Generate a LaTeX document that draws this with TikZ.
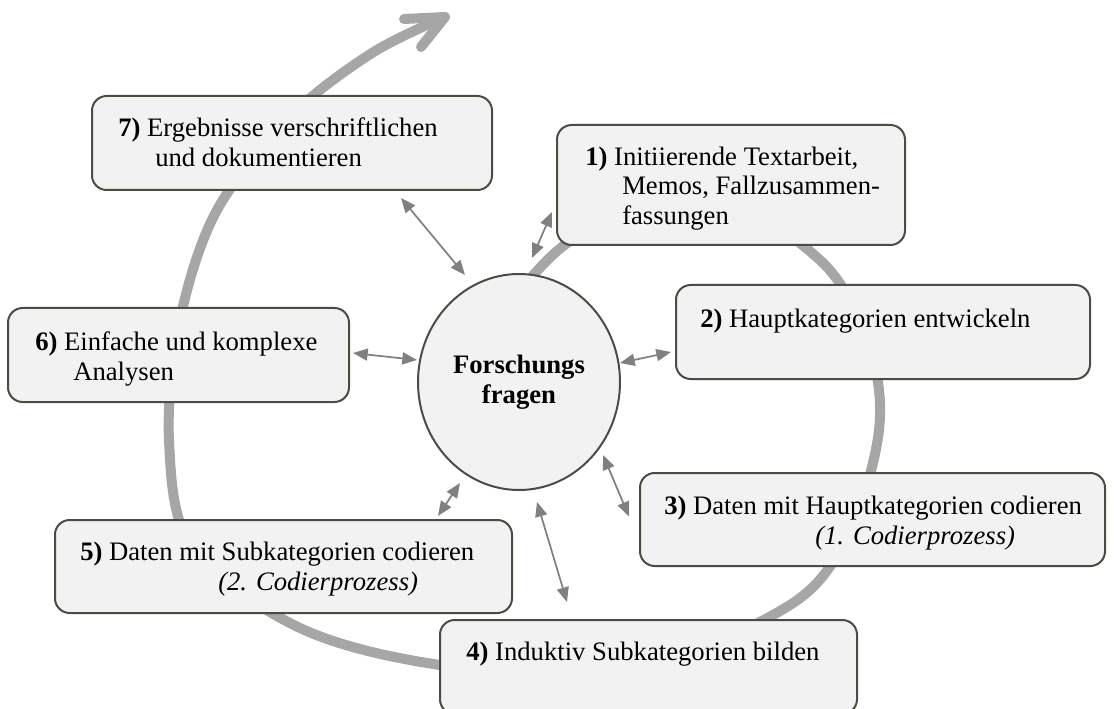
\documentclass[tikz,border=0pt]{standalone}
\usepackage{fontspec}
\setmainfont{Liberation Serif}
\usetikzlibrary{fit,arrows.meta,shapes.geometric}
\definecolor{boxfill}{HTML}{F2F2F2}
\definecolor{boxline}{HTML}{4A4E42}
\definecolor{cyclegray}{HTML}{A6A6A6}
\definecolor{linkgray}{HTML}{808080}

\begin{document}
\begin{tikzpicture}[x=0.75pt,y=-0.75pt,
  stepbox/.style={draw=boxline, line width=1.5pt, fill=boxfill, rounded corners=11pt, inner sep=0pt},
  steptext/.style={anchor=base west, inner sep=0pt, font=\fontsize{20}{22.5}\selectfont},
  centre/.style={ellipse, draw=boxline, line width=1.5pt, fill=boxfill, inner sep=0pt,
    minimum width=151.5pt, minimum height=162pt, align=center,
    font=\fontsize{20}{22.5}\selectfont\bfseries},
  cyclepath/.style={draw=cyclegray, line width=7.5pt},
  twoway/.style={draw=linkgray, line width=1.3pt,
    {Triangle[length=11pt,width=9pt]}-{Triangle[length=11pt,width=9pt]}},
]
\useasboundingbox (0,0) rectangle (1114,709);

% the research cycle, running clockwise and leaving at the top
\draw[cyclepath] plot[smooth, tension=0.55] coordinates {
  (520,292) (575,238) (700,190) (822,262) (870,350) (879,430) (850,530)
  (790,605) (620,675) (440,665) (300,628) (192,548) (169,440) (180,320)
  (217,210) (292,115) (372,53) (445,17)};
\coordinate (tip) at (445,17);
\coordinate (barbA) at (404,19);
\coordinate (barbB) at (421,47);
\draw[cyclepath, line cap=round, line join=round] (barbA) -- (tip) -- (barbB);

% step boxes
\node[stepbox, fit={(92,96) (492,190)}] (b7) {};
\node[stepbox, fit={(557,125) (905,245)}] (b1) {};
\node[stepbox, fit={(676,285) (1090,379)}] (b2) {};
\node[stepbox, fit={(8,308) (349,402)}] (b6) {};
\node[stepbox, fit={(640,473) (1105,566)}] (b3) {};
\node[stepbox, fit={(55,520) (512,613)}] (b5) {};
\node[stepbox, fit={(440,620) (857,714)}] (b4) {};

% central research questions
\node[centre] (e) at (519,382) {Forschungs\\fragen};

% box texts
\node[steptext] (t7a) at (118,137) {\textbf{7)} Ergebnisse verschriftlichen};
\node[steptext] (t7b) at (155,167) {und dokumentieren};
\node[steptext] (t1a) at (585,166) {\textbf{1)} Initiierende Textarbeit,};
\node[steptext] (t1b) at (622,195) {Memos, Fallzusammen-};
\node[steptext] (t1c) at (622,225) {fassungen};
\node[steptext] (t2a) at (700,328) {\textbf{2)} Hauptkategorien entwickeln};
\node[steptext] (t6a) at (35,350) {\textbf{6)} Einfache und komplexe};
\node[steptext] (t6b) at (73,380) {Analysen};
\node[steptext] (t3a) at (664,514) {\textbf{3)} Daten mit Hauptkategorien codieren};
\node[steptext] (t3b) at (815,544) {\itshape (1. Codierprozess)};
\node[steptext] (t5a) at (80,560) {\textbf{5)} Daten mit Subkategorien codieren};
\node[steptext] (t5b) at (218,590) {\itshape (2. Codierprozess)};
\node[steptext] (t4a) at (466,660) {\textbf{4)} Induktiv Subkategorien bilden};

% links between the steps and the research questions
\draw[twoway] ([shift={(109,7)}]b7.south) -- ([shift={(-54,-107)}]e.center);
\draw[twoway] ([shift={(-4,27)}]b1.west) -- ([shift={(13,-124)}]e.center);
\draw[twoway] ([shift={(3,-2)}]b6.east) -- ([shift={(-102,-22)}]e.center);
\draw[twoway] ([shift={(-4,20)}]b2.west) -- ([shift={(101,-19)}]e.center);
\draw[twoway] ([shift={(-10,-3)}]b3.west) -- ([shift={(84,73)}]e.center);
\draw[twoway] ([shift={(-75,-3)}]b5.north east) -- ([shift={(-59,101)}]e.center);
\draw[twoway] ([shift={(128,-17)}]b4.north west) -- ([shift={(18,120)}]e.center);
\end{tikzpicture}
\end{document}
